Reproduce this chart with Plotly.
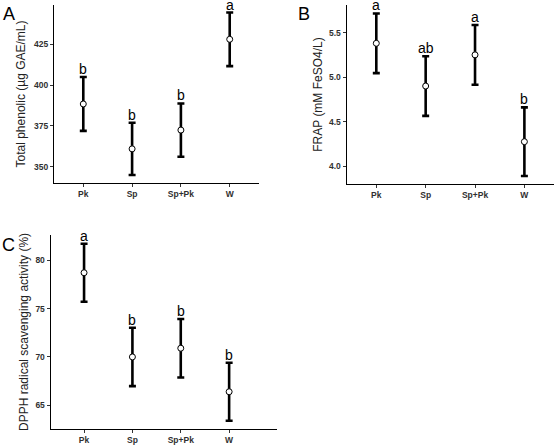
import plotly.graph_objects as go

groups = ["Pk", "Sp", "Sp+Pk", "W"]

phenolic_mean = [388.4, 360.9, 372.4, 428.0]
phenolic_err = [16.5, 16.0, 16.3, 16.4]
phenolic_letters = ["b", "b", "b", "a"]

frap_mean = [5.38, 4.90, 5.25, 4.275]
frap_err = [0.335, 0.335, 0.335, 0.385]
frap_letters = ["a", "ab", "a", "b"]

dpph_mean = [78.7, 70.0, 70.9, 66.4]
dpph_err = [3.0, 3.02, 3.02, 3.0]
dpph_letters = ["a", "b", "b", "b"]

panels = [
    dict(mean=phenolic_mean, err=phenolic_err, letters=phenolic_letters,
         title="Total phenolic (µg GAE/mL)", ticks=[350, 375, 400, 425], fmt="d",
         yr=[340, 449], xr=[-0.6, 3.6], standoff=5,
         xd=[54/560, 259/560], yd=[(445-183)/445, 440/445], tag="A", tagpos=(1, 2)),
    dict(mean=frap_mean, err=frap_err, letters=frap_letters,
         title="FRAP (mM FeSO4/L)", ticks=[4.0, 4.5, 5.0, 5.5], fmt=".1f",
         yr=[3.80, 5.81], xr=[-0.6, 3.6], standoff=3,
         xd=[346.7/560, 554/560], yd=[(445-184)/445, 440/445], tag="B", tagpos=(296, 2)),
    dict(mean=dpph_mean, err=dpph_err, letters=dpph_letters,
         title="DPPH radical scavenging activity (%)", ticks=[65, 70, 75, 80], fmt="d",
         yr=[62.55, 82.6], xr=[-0.69, 3.99], standoff=4,
         xd=[50.7/560, 277/560], yd=[16/445, 210/445], tag="C", tagpos=(0, 233)),
]

fig = go.Figure()
annotations = []
layout = {}
for i, p in enumerate(panels):
    n = "" if i == 0 else str(i + 1)
    xa, ya = "x" + n, "y" + n
    fig.add_trace(go.Scatter(
        x=groups, y=p["mean"], xaxis=xa, yaxis=ya, mode="markers",
        marker=dict(symbol="circle", size=6, color="white",
                    line=dict(color="black", width=1)),
        error_y=dict(type="data", array=p["err"], visible=True,
                     color="black", thickness=2.6, width=3.5),
        showlegend=False,
    ))
    for g, m, e, l in zip(groups, p["mean"], p["err"], p["letters"]):
        annotations.append(dict(
            x=g, y=m + e, xref=xa, yref=ya, text=l, showarrow=False,
            yanchor="bottom", yshift=-1, borderpad=0,
            font=dict(family="Liberation Sans, Arial", size=14, color="black"),
        ))
    annotations.append(dict(
        x=p["tagpos"][0] / 560, y=1 - p["tagpos"][1] / 445, xref="paper", yref="paper",
        text=p["tag"], showarrow=False, xanchor="left", yanchor="top",
        font=dict(family="Liberation Sans, Arial", size=18, color="black"),
    ))
    axis_common = dict(
        showline=True, linecolor="black", linewidth=1.3, mirror=False,
        ticks="outside", ticklen=3, tickwidth=1.2, tickcolor="#333333",
        showgrid=False, zeroline=False,
        tickfont=dict(family="Liberation Sans, Arial", size=8.5, color="#303030", weight="bold"),
    )
    layout["xaxis" + n] = dict(
        axis_common, domain=p["xd"], anchor=ya, range=p["xr"],
        type="category", categoryorder="array", categoryarray=groups,
    )
    layout["yaxis" + n] = dict(
        axis_common, domain=p["yd"], anchor=xa, range=p["yr"],
        tickvals=p["ticks"], tickformat=p["fmt"],
        title=dict(text=p["title"], standoff=p["standoff"],
                   font=dict(family="Liberation Sans, Arial", size=12, color="#222222")),
    )

fig.update_layout(
    width=560, height=445, margin=dict(l=0, r=0, t=0, b=0),
    paper_bgcolor="white", plot_bgcolor="white",
    annotations=annotations, **layout,
)
fig.write_html("out.html")
